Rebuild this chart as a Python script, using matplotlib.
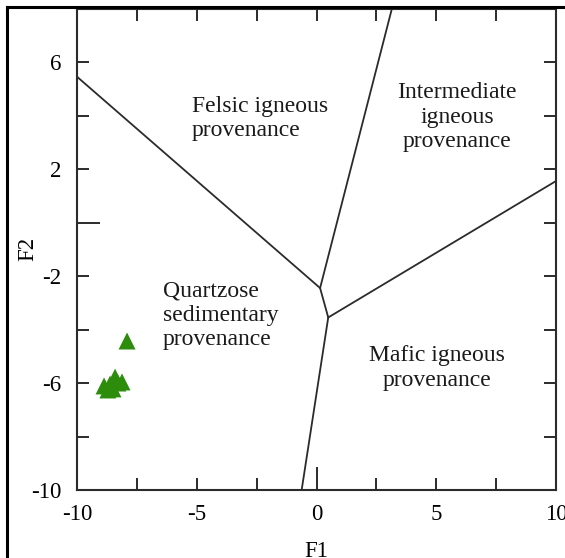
import matplotlib
matplotlib.use("Agg")
import matplotlib.pyplot as plt
from matplotlib.lines import Line2D

# ---- data ----
sample_f1 = [-7.91, -8.87, -8.62, -8.41, -8.29, -8.12, -8.71, -8.50]
sample_f2 = [-4.43, -6.11, -6.04, -5.78, -6.00, -5.96, -6.26, -6.22]

# field boundary lines (F1, F2)
line_felsic_quartz = ([-10.0, 0.15], [5.45, -2.45])
line_felsic_inter = ([0.15, 3.15], [-2.45, 8.0])
line_junction = ([0.15, 0.49], [-2.45, -3.55])
line_inter_mafic = ([0.49, 10.0], [-3.55, 1.55])
line_quartz_mafic = ([0.49, -0.62], [-3.55, -10.0])

xticks = [-10, -7.5, -5, -2.5, 0, 2.5, 5, 7.5, 10]
xticklabels = ["-10", "", "-5", "", "0", "", "5", "", "10"]
yticks = [-10, -8, -6, -4, -2, 0, 2, 4, 6, 8]
yticklabels = ["-10", "", "-6", "", "-2", "", "2", "", "6", ""]

field_labels = [
    ("Felsic igneous\nprovenance", -5.2, 3.9, "left"),
    ("Intermediate\nigneous\nprovenance", 5.87, 3.94, "center"),
    ("Quartzose\nsedimentary\nprovenance", -6.41, -3.46, "left"),
    ("Mafic igneous\nprovenance", 5.03, -5.44, "center"),
]

plt.rcParams["font.family"] = ["Liberation Serif", "DejaVu Serif"]
dark = "#2b2b2b"

fig = plt.figure(figsize=(5.65, 5.58), dpi=100)
ax = fig.add_axes([77 / 565, 1 - 490 / 558, (556 - 77) / 565, (490 - 8.5) / 558])

for xs, ys in [line_felsic_quartz, line_felsic_inter, line_junction,
               line_inter_mafic, line_quartz_mafic]:
    ax.plot(xs, ys, color=dark, lw=1.3, solid_capstyle="round", zorder=2)

ax.scatter(sample_f1, sample_f2, marker="^", s=150, color="#2d8c0c",
           edgecolors="none", zorder=3, clip_on=False)

for txt, x, y, ha in field_labels:
    ax.text(x, y, txt, ha=ha, va="center", fontsize=17, color="#1a1a1a",
            linespacing=1.2)

ax.set_xlim(-10, 10)
ax.set_ylim(-10, 8)
ax.set_xticks(xticks)
ax.set_xticklabels(xticklabels)
ax.set_yticks(yticks)
ax.set_yticklabels(yticklabels)
ax.tick_params(direction="in", length=8.5, width=1.4, color=dark,
               labelsize=16.5, top=True, right=True, pad=10)
ax.tick_params(axis="y", pad=11)

for t, v in zip(ax.xaxis.get_major_ticks(), xticks):
    if v == 0:
        t.tick1line.set_markersize(16.5)
for t, v in zip(ax.yaxis.get_major_ticks(), yticks):
    if v == 0:
        t.tick1line.set_markersize(16.5)

for s in ax.spines.values():
    s.set_linewidth(1.5)
    s.set_color(dark)

ax.set_xlabel("F1", fontsize=16.5)
ax.set_ylabel("F2", fontsize=16.5)
ax.xaxis.set_label_coords(0.5, -0.105)
ax.yaxis.set_label_coords(-0.08, 0.5)

# outer frame (left and top)
fig.add_artist(Line2D([7 / 565, 7 / 565], [0, 1 - 7 / 558], color="black",
                      lw=2.2, transform=fig.transFigure))
fig.add_artist(Line2D([7 / 565, 1], [1 - 7 / 558, 1 - 7 / 558], color="black",
                      lw=2.2, transform=fig.transFigure))

fig.savefig("out.png", dpi=100)
